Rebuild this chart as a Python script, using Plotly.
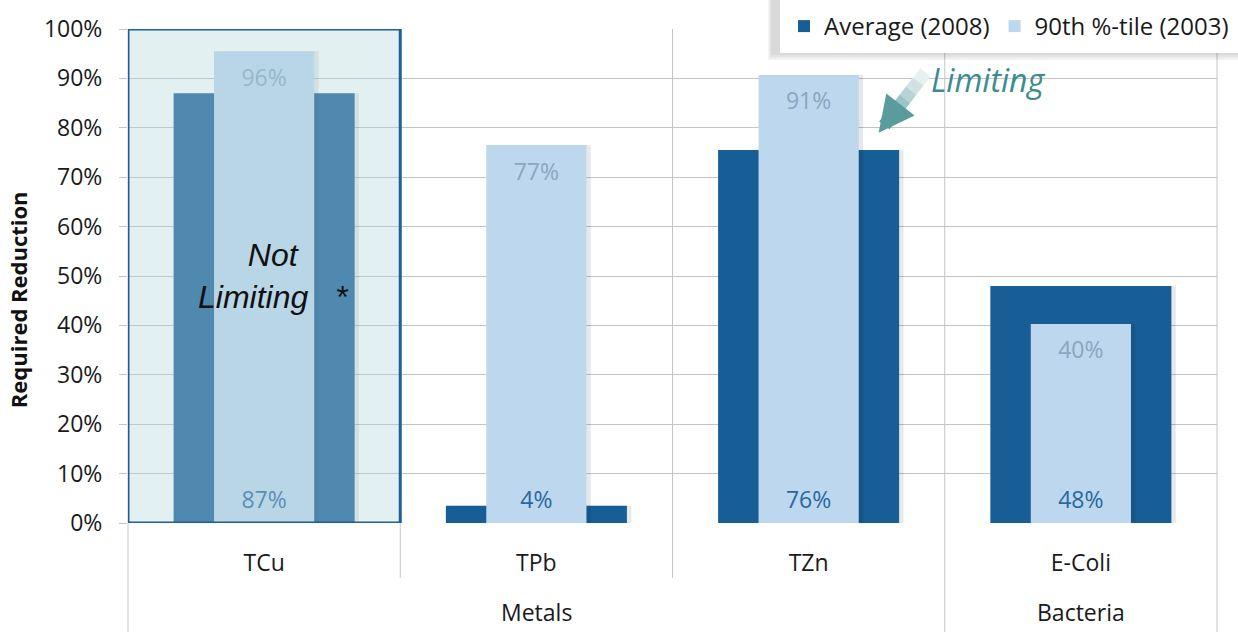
import plotly.graph_objects as go

# ---- data ----
categories = ["TCu", "TPb", "TZn", "E-Coli"]
groups = ["Metals", "Metals", "Metals", "Bacteria"]
avg_2008 = [0.87, 0.035, 0.755, 0.48]
p90_2003 = [0.955, 0.765, 0.907, 0.403]
avg_labels = ["87%", "4%", "76%", "48%"]
p90_labels = ["96%", "77%", "91%", "40%"]
y_ticks = [0.0, 0.1, 0.2, 0.3, 0.4, 0.5, 0.6, 0.7, 0.8, 0.9, 1.0]
y_ticklabels = ["0%", "10%", "20%", "30%", "40%", "50%", "60%", "70%", "80%", "90%", "100%"]

# ---- style ----
DARK = "#185E96"
LIGHT = "#BDD7EE"
SHADOW = "rgba(0,0,0,0.09)"
FONT = "Open Sans"
W_DARK = 0.665
W_LIGHT = 0.368
SH = 0.016

fig = go.Figure()
fig.add_trace(go.Bar(x=categories, y=avg_2008, width=W_DARK, offset=-W_DARK / 2 + SH,
                     marker=dict(color=SHADOW, line=dict(width=0)), showlegend=False, hoverinfo="skip"))
fig.add_trace(go.Bar(name="Average (2008)", x=categories, y=avg_2008, width=W_DARK,
                     marker=dict(color=DARK, line=dict(width=0))))
fig.add_trace(go.Bar(x=categories, y=p90_2003, width=W_LIGHT, offset=-W_LIGHT / 2 + SH,
                     marker=dict(color=SHADOW, line=dict(width=0)), showlegend=False, hoverinfo="skip"))
fig.add_trace(go.Bar(name="90th %-tile (2003)", x=categories, y=p90_2003, width=W_LIGHT,
                     marker=dict(color=LIGHT, line=dict(width=0))))
# value labels
fig.add_trace(go.Scatter(x=categories, y=[0] * len(categories), mode="markers+text", text=avg_labels,
                         textposition="top center", marker=dict(size=14, opacity=0),
                         textfont=dict(family=FONT, size=23, color="#2A679E"),
                         showlegend=False, hoverinfo="skip"))
fig.add_trace(go.Scatter(x=categories, y=p90_2003, mode="markers+text", text=p90_labels,
                         textposition="bottom center", marker=dict(size=26, opacity=0),
                         textfont=dict(family=FONT, size=23, color="#8BA6C0"),
                         showlegend=False, hoverinfo="skip"))

n = len(categories)
shapes = []
GRID = "#C4C4C4"
# category/group dividers
group_bounds = [0]
for i in range(1, n):
    if groups[i] != groups[i - 1]:
        group_bounds.append(i)
group_bounds.append(n)
for b in range(n + 1):
    long_line = b in group_bounds
    shapes.append(dict(type="line", xref="paper", yref="paper", x0=b / n, x1=b / n,
                       y0=1, y1=-0.221 if long_line else -0.111,
                       line=dict(color=GRID, width=1), layer="below"))
# "not limiting" box over TCu
shapes.append(dict(type="rect", xref="x", yref="y", x0=-0.5, x1=0.5, y0=0, y1=1,
                   fillcolor="rgba(177,213,219,0.36)", line=dict(color="#1F5E99", width=3), layer="above"))
# legend shadow (soft)
for k in range(3):
    shapes.append(dict(type="rect", xref="paper", yref="paper",
                       x0=0.5915 - 0.0012 * (k + 1), x1=1.02, y0=0.952 - 0.005 * (k + 1), y1=1.06,
                       fillcolor="rgba(0,0,0,0.05)", line=dict(width=0), layer="above"))

annotations = [
    dict(text="<b>Required Reduction</b>", textangle=-90, xref="paper", yref="paper",
         x=-0.101, y=0.451, xanchor="center", yanchor="middle", showarrow=False,
         font=dict(family=FONT, size=22, color="#111")),
    dict(text="<i>Not<br>Limiting   *</i>", xref="x", yref="paper", x=0.035, y=0.5,
         xanchor="center", yanchor="middle", showarrow=False,
         font=dict(family="Liberation Sans", size=32, color="#111"), align="center"),
    dict(text="<i>Limiting</i>", xref="x", yref="y", x=2.66, y=0.897, xanchor="center", yanchor="middle",
         showarrow=False, font=dict(family=FONT, size=32, color="#3A8C8F")),
]
# gradient-like arrow: shaft segments from light tail to darker near head, then the head
AX, AY = 48, -62
for frac, col in [(1.0, "#E6F0F0"), (0.85, "#D0E3E4"), (0.7, "#B6D4D5"), (0.57, "#9CC4C6")]:
    annotations.append(dict(text="", xref="x", yref="y", x=2.257, y=0.79, ax=AX * frac, ay=AY * frac,
                            showarrow=True, arrowhead=0, arrowwidth=13, arrowcolor=col, standoff=20))
annotations.append(dict(text="", xref="x", yref="y", x=2.257, y=0.79, ax=AX * 0.45, ay=AY * 0.45,
                        showarrow=True, arrowhead=2, arrowsize=0.55, arrowwidth=13,
                        arrowcolor="#5A9B9E", standoff=0))
# group labels
seen = []
for g in groups:
    if g not in seen:
        seen.append(g)
for g in seen:
    idx = [i for i, gg in enumerate(groups) if gg == g]
    annotations.append(dict(text=g, xref="x", yref="paper", x=sum(idx) / len(idx), y=-0.18,
                            xanchor="center", yanchor="middle",
                            showarrow=False, font=dict(family=FONT, size=23, color="#1a1a1a")))

fig.update_layout(
    width=1238, height=632,
    margin=dict(l=128, r=21, t=29, b=109, autoexpand=False),
    paper_bgcolor="white", plot_bgcolor="white",
    barmode="overlay",
    font=dict(family=FONT, color="#1a1a1a"),
    xaxis=dict(type="category", range=[-0.5, n - 0.5], showgrid=False, ticks="", showline=False,
               tickfont=dict(family=FONT, size=23, color="#1a1a1a"), ticklabelstandoff=24),
    yaxis=dict(range=[0, 1], tickvals=y_ticks, ticktext=y_ticklabels, showgrid=True, gridcolor=GRID,
               gridwidth=1, zeroline=False, ticks="outside", ticklen=8, tickcolor=GRID,
               tickfont=dict(family=FONT, size=23, color="#1a1a1a"), ticklabelstandoff=12, showline=False),
    legend=dict(orientation="h", xref="container", yref="container", x=1, xanchor="right", y=1,
                yanchor="top", bgcolor="white", bordercolor="white", borderwidth=4,
                font=dict(family=FONT, size=24, color="#1a1a1a"), traceorder="normal"),
    shapes=shapes,
    annotations=annotations,
)

fig.write_html("out.html")
